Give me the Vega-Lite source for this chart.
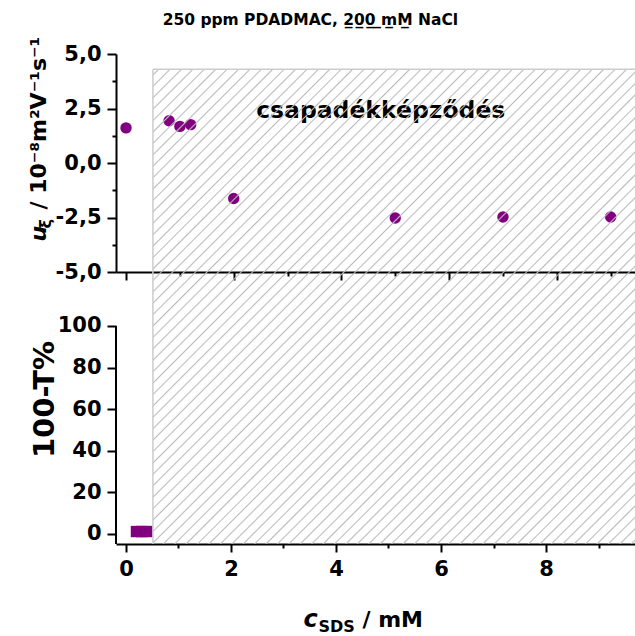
{
"$schema":"https://vega.github.io/schema/vega-lite/v6.json",
"background":"white",
"padding":{"left":27,"top":12,"right":0,"bottom":0},
"spacing":0,
"bounds":"flush",
"title":{"text":"250 ppm PDADMAC, 2̲0̲0̲ ̲m̲M̲ NaCl","font":"DejaVu Sans","fontSize":15.5,"fontWeight":"bold","color":"black","anchor":"middle","dx":-21,"offset":8},
"config":{"view":{"stroke":null},"axis":{"grid":false,"domainColor":"black","domainWidth":2,"tickColor":"black","tickWidth":2,"labelFont":"DejaVu Sans","labelFontWeight":"bold","labelFontSize":21,"labelColor":"black","titleFont":"DejaVu Sans","titleFontWeight":"bold","titleFontSize":23,"titleColor":"black","labelOverlap":false,"zindex":1,"labelPadding":6}},
"vconcat":[
{"width":519,"height":218,
"resolve":{"axis":{"y":"independent"}},
"layer":[
{"data":{"values":[{"c":0,"u":1.61},{"c":0.8,"u":1.94},{"c":1.0,"u":1.68},{"c":1.2,"u":1.76},{"c":2,"u":-1.63},{"c":5,"u":-2.52},{"c":7,"u":-2.48},{"c":9,"u":-2.48}]},
"mark":{"type":"circle","size":130,"color":"#800080","opacity":1},
"encoding":{
"x":{"field":"c","type":"quantitative","scale":{"domain":[-0.186,9.452],"nice":false,"zero":false},
"axis":{"values":[0,1,2,3,4,5,6,7,8,9],"labels":false,"title":null,"tickSize":{"condition":{"test":"datum.value % 2 === 0","value":8},"value":4}}},
"y":{"field":"u","type":"quantitative","scale":{"domain":[-5,5],"nice":false,"zero":false},
"axis":{"orient":"left","values":[-5,-3.75,-2.5,-1.25,0,1.25,2.5,3.75,5],
"labelExpr":"abs(datum.value % 2.5) < 0.001 ? (datum.value < 0 ? '-' : '') + replace(format(abs(datum.value), '.1f'), '.', ',') : ''",
"tickSize":{"condition":{"test":"abs(datum.value % 2.5) < 0.001","value":9},"value":4},
"title":"/ 10⁻⁸m²V⁻¹s⁻¹","titleFontSize":22,"titleX":-71,"titleY":155,"titleAngle":-90,"titleAlign":"left","titleBaseline":"alphabetic"}}}},
{"data":{"values":[{}]},
"mark":{"type":"text","text":"csapadékképződés","font":"DejaVu Sans","fontWeight":"bold","fontSize":23.5,"color":"black","baseline":"middle","align":"center"},
"encoding":{"x":{"datum":4.73},"y":{"datum":2.37,"axis":{"orient":"left","domain":false,"ticks":false,"labels":false,"title":"u","titleFontStyle":"italic","titleFontSize":22,"titleX":-71,"titleY":187,"titleAngle":-90,"titleAlign":"left","titleBaseline":"alphabetic"}}}},
{"data":{"values":[{}]},
"mark":{"type":"rect","fill":{"gradient":"linear","x1":0,"y1":0,"x2":1.20706,"y2":0.50764,"stops":[
{"offset":0.00613,"color":"#bbb0"},{"offset":0.00833,"color":"#bbb"},{"offset":0.01053,"color":"#bbb0"},
{"offset":0.0228,"color":"#bbb0"},{"offset":0.025,"color":"#bbb"},{"offset":0.0272,"color":"#bbb0"},
{"offset":0.03947,"color":"#bbb0"},{"offset":0.04167,"color":"#bbb"},{"offset":0.04387,"color":"#bbb0"},
{"offset":0.05613,"color":"#bbb0"},{"offset":0.05833,"color":"#bbb"},{"offset":0.06053,"color":"#bbb0"},
{"offset":0.0728,"color":"#bbb0"},{"offset":0.075,"color":"#bbb"},{"offset":0.0772,"color":"#bbb0"},
{"offset":0.08947,"color":"#bbb0"},{"offset":0.09167,"color":"#bbb"},{"offset":0.09387,"color":"#bbb0"},
{"offset":0.10613,"color":"#bbb0"},{"offset":0.10833,"color":"#bbb"},{"offset":0.11053,"color":"#bbb0"},
{"offset":0.1228,"color":"#bbb0"},{"offset":0.125,"color":"#bbb"},{"offset":0.1272,"color":"#bbb0"},
{"offset":0.13947,"color":"#bbb0"},{"offset":0.14167,"color":"#bbb"},{"offset":0.14387,"color":"#bbb0"},
{"offset":0.15613,"color":"#bbb0"},{"offset":0.15833,"color":"#bbb"},{"offset":0.16053,"color":"#bbb0"},
{"offset":0.1728,"color":"#bbb0"},{"offset":0.175,"color":"#bbb"},{"offset":0.1772,"color":"#bbb0"},
{"offset":0.18947,"color":"#bbb0"},{"offset":0.19167,"color":"#bbb"},{"offset":0.19387,"color":"#bbb0"},
{"offset":0.20613,"color":"#bbb0"},{"offset":0.20833,"color":"#bbb"},{"offset":0.21053,"color":"#bbb0"},
{"offset":0.2228,"color":"#bbb0"},{"offset":0.225,"color":"#bbb"},{"offset":0.2272,"color":"#bbb0"},
{"offset":0.23947,"color":"#bbb0"},{"offset":0.24167,"color":"#bbb"},{"offset":0.24387,"color":"#bbb0"},
{"offset":0.25613,"color":"#bbb0"},{"offset":0.25833,"color":"#bbb"},{"offset":0.26053,"color":"#bbb0"},
{"offset":0.2728,"color":"#bbb0"},{"offset":0.275,"color":"#bbb"},{"offset":0.2772,"color":"#bbb0"},
{"offset":0.28947,"color":"#bbb0"},{"offset":0.29167,"color":"#bbb"},{"offset":0.29387,"color":"#bbb0"},
{"offset":0.30613,"color":"#bbb0"},{"offset":0.30833,"color":"#bbb"},{"offset":0.31053,"color":"#bbb0"},
{"offset":0.3228,"color":"#bbb0"},{"offset":0.325,"color":"#bbb"},{"offset":0.3272,"color":"#bbb0"},
{"offset":0.33947,"color":"#bbb0"},{"offset":0.34167,"color":"#bbb"},{"offset":0.34387,"color":"#bbb0"},
{"offset":0.35613,"color":"#bbb0"},{"offset":0.35833,"color":"#bbb"},{"offset":0.36053,"color":"#bbb0"},
{"offset":0.3728,"color":"#bbb0"},{"offset":0.375,"color":"#bbb"},{"offset":0.3772,"color":"#bbb0"},
{"offset":0.38947,"color":"#bbb0"},{"offset":0.39167,"color":"#bbb"},{"offset":0.39387,"color":"#bbb0"},
{"offset":0.40613,"color":"#bbb0"},{"offset":0.40833,"color":"#bbb"},{"offset":0.41053,"color":"#bbb0"},
{"offset":0.4228,"color":"#bbb0"},{"offset":0.425,"color":"#bbb"},{"offset":0.4272,"color":"#bbb0"},
{"offset":0.43947,"color":"#bbb0"},{"offset":0.44167,"color":"#bbb"},{"offset":0.44387,"color":"#bbb0"},
{"offset":0.45613,"color":"#bbb0"},{"offset":0.45833,"color":"#bbb"},{"offset":0.46053,"color":"#bbb0"},
{"offset":0.4728,"color":"#bbb0"},{"offset":0.475,"color":"#bbb"},{"offset":0.4772,"color":"#bbb0"},
{"offset":0.48947,"color":"#bbb0"},{"offset":0.49167,"color":"#bbb"},{"offset":0.49387,"color":"#bbb0"},
{"offset":0.50613,"color":"#bbb0"},{"offset":0.50833,"color":"#bbb"},{"offset":0.51053,"color":"#bbb0"},
{"offset":0.5228,"color":"#bbb0"},{"offset":0.525,"color":"#bbb"},{"offset":0.5272,"color":"#bbb0"},
{"offset":0.53947,"color":"#bbb0"},{"offset":0.54167,"color":"#bbb"},{"offset":0.54387,"color":"#bbb0"},
{"offset":0.55613,"color":"#bbb0"},{"offset":0.55833,"color":"#bbb"},{"offset":0.56053,"color":"#bbb0"},
{"offset":0.5728,"color":"#bbb0"},{"offset":0.575,"color":"#bbb"},{"offset":0.5772,"color":"#bbb0"},
{"offset":0.58947,"color":"#bbb0"},{"offset":0.59167,"color":"#bbb"},{"offset":0.59387,"color":"#bbb0"},
{"offset":0.60613,"color":"#bbb0"},{"offset":0.60833,"color":"#bbb"},{"offset":0.61053,"color":"#bbb0"},
{"offset":0.6228,"color":"#bbb0"},{"offset":0.625,"color":"#bbb"},{"offset":0.6272,"color":"#bbb0"},
{"offset":0.63947,"color":"#bbb0"},{"offset":0.64167,"color":"#bbb"},{"offset":0.64387,"color":"#bbb0"},
{"offset":0.65613,"color":"#bbb0"},{"offset":0.65833,"color":"#bbb"},{"offset":0.66053,"color":"#bbb0"},
{"offset":0.6728,"color":"#bbb0"},{"offset":0.675,"color":"#bbb"},{"offset":0.6772,"color":"#bbb0"},
{"offset":0.68947,"color":"#bbb0"},{"offset":0.69167,"color":"#bbb"},{"offset":0.69387,"color":"#bbb0"},
{"offset":0.70613,"color":"#bbb0"},{"offset":0.70833,"color":"#bbb"},{"offset":0.71053,"color":"#bbb0"},
{"offset":0.7228,"color":"#bbb0"},{"offset":0.725,"color":"#bbb"},{"offset":0.7272,"color":"#bbb0"},
{"offset":0.73947,"color":"#bbb0"},{"offset":0.74167,"color":"#bbb"},{"offset":0.74387,"color":"#bbb0"},
{"offset":0.75613,"color":"#bbb0"},{"offset":0.75833,"color":"#bbb"},{"offset":0.76053,"color":"#bbb0"},
{"offset":0.7728,"color":"#bbb0"},{"offset":0.775,"color":"#bbb"},{"offset":0.7772,"color":"#bbb0"},
{"offset":0.78947,"color":"#bbb0"},{"offset":0.79167,"color":"#bbb"},{"offset":0.79387,"color":"#bbb0"},
{"offset":0.80613,"color":"#bbb0"},{"offset":0.80833,"color":"#bbb"},{"offset":0.81053,"color":"#bbb0"},
{"offset":0.8228,"color":"#bbb0"},{"offset":0.825,"color":"#bbb"},{"offset":0.8272,"color":"#bbb0"},
{"offset":0.83947,"color":"#bbb0"},{"offset":0.84167,"color":"#bbb"},{"offset":0.84387,"color":"#bbb0"},
{"offset":0.85613,"color":"#bbb0"},{"offset":0.85833,"color":"#bbb"},{"offset":0.86053,"color":"#bbb0"},
{"offset":0.8728,"color":"#bbb0"},{"offset":0.875,"color":"#bbb"},{"offset":0.8772,"color":"#bbb0"},
{"offset":0.88947,"color":"#bbb0"},{"offset":0.89167,"color":"#bbb"},{"offset":0.89387,"color":"#bbb0"},
{"offset":0.90613,"color":"#bbb0"},{"offset":0.90833,"color":"#bbb"},{"offset":0.91053,"color":"#bbb0"},
{"offset":0.9228,"color":"#bbb0"},{"offset":0.925,"color":"#bbb"},{"offset":0.9272,"color":"#bbb0"},
{"offset":0.93947,"color":"#bbb0"},{"offset":0.94167,"color":"#bbb"},{"offset":0.94387,"color":"#bbb0"},
{"offset":0.95613,"color":"#bbb0"},{"offset":0.95833,"color":"#bbb"},{"offset":0.96053,"color":"#bbb0"},
{"offset":0.9728,"color":"#bbb0"},{"offset":0.975,"color":"#bbb"},{"offset":0.9772,"color":"#bbb0"},
{"offset":0.98947,"color":"#bbb0"},{"offset":0.99167,"color":"#bbb"},{"offset":0.99387,"color":"#bbb0"}
]}},
"encoding":{"x":{"datum":0.5},"x2":{"datum":9.452},"y":{"datum":4.3,"axis":{"orient":"left","domain":false,"ticks":false,"labels":false,"title":"ξ","titleFontSize":16,"titleX":-66,"titleY":174,"titleAngle":-90,"titleAlign":"left","titleBaseline":"alphabetic"}},"y2":{"datum":-5}}},
{"data":{"values":[{}]},"mark":{"type":"rule","color":"#cccccc","strokeWidth":1.5},"encoding":{"x":{"datum":0.5},"y":{"datum":-5,"axis":null},"y2":{"datum":4.3}}},
{"data":{"values":[{}]},"mark":{"type":"rule","color":"#cccccc","strokeWidth":1.5},"encoding":{"x":{"datum":0.5},"x2":{"datum":9.452},"y":{"datum":4.3,"axis":null}}}
]},
{"width":519,"height":272,
"resolve":{"axis":{"x":"independent"}},
"layer":[
{"data":{"values":[{"c":0.2,"t":1},{"c":0.3,"t":1},{"c":0.4,"t":1}]},
"mark":{"type":"square","size":130,"color":"#800080","opacity":1},
"encoding":{
"x":{"field":"c","type":"quantitative","scale":{"domain":[-0.19,9.695],"nice":false,"zero":false},
"axis":{"orient":"bottom","values":[0,1,2,3,4,5,6,7,8,9],"labelExpr":"datum.value % 2 === 0 ? datum.label : ''","tickSize":{"condition":{"test":"datum.value % 2 === 0","value":8},"value":4},"title":"/ mM","titleFontSize":22,"titleX":246,"titleY":82,"titleAlign":"left","titleAnchor":"start","titleBaseline":"alphabetic"}},
"y":{"field":"t","type":"quantitative","scale":{"domain":[-5,126],"nice":false,"zero":false},
"axis":{"values":[0,10,20,30,40,50,60,70,80,90,100],"labelExpr":"datum.value % 20 === 0 ? datum.label : ''","tickSize":{"condition":{"test":"datum.value % 20 === 0","value":9},"value":4},"domain":false,"title":"100-T%","titleFontSize":29,"titleX":-63,"titleY":127,"titleAngle":-90,"titleAlign":"center","titleBaseline":"alphabetic"}}}},
{"data":{"values":[{}]},
"mark":{"type":"rect","fill":{"gradient":"linear","x1":0,"y1":0,"x2":1.18651,"y2":0.66945,"stops":[
{"offset":0.00916,"color":"#bbb0"},{"offset":0.01116,"color":"#bbb"},{"offset":0.01316,"color":"#bbb0"},
{"offset":0.02429,"color":"#bbb0"},{"offset":0.02629,"color":"#bbb"},{"offset":0.02829,"color":"#bbb0"},
{"offset":0.03943,"color":"#bbb0"},{"offset":0.04143,"color":"#bbb"},{"offset":0.04343,"color":"#bbb0"},
{"offset":0.05456,"color":"#bbb0"},{"offset":0.05656,"color":"#bbb"},{"offset":0.05856,"color":"#bbb0"},
{"offset":0.0697,"color":"#bbb0"},{"offset":0.0717,"color":"#bbb"},{"offset":0.0737,"color":"#bbb0"},
{"offset":0.08483,"color":"#bbb0"},{"offset":0.08683,"color":"#bbb"},{"offset":0.08883,"color":"#bbb0"},
{"offset":0.09997,"color":"#bbb0"},{"offset":0.10197,"color":"#bbb"},{"offset":0.10397,"color":"#bbb0"},
{"offset":0.1151,"color":"#bbb0"},{"offset":0.1171,"color":"#bbb"},{"offset":0.1191,"color":"#bbb0"},
{"offset":0.13024,"color":"#bbb0"},{"offset":0.13224,"color":"#bbb"},{"offset":0.13424,"color":"#bbb0"},
{"offset":0.14538,"color":"#bbb0"},{"offset":0.14738,"color":"#bbb"},{"offset":0.14938,"color":"#bbb0"},
{"offset":0.16051,"color":"#bbb0"},{"offset":0.16251,"color":"#bbb"},{"offset":0.16451,"color":"#bbb0"},
{"offset":0.17565,"color":"#bbb0"},{"offset":0.17765,"color":"#bbb"},{"offset":0.17965,"color":"#bbb0"},
{"offset":0.19078,"color":"#bbb0"},{"offset":0.19278,"color":"#bbb"},{"offset":0.19478,"color":"#bbb0"},
{"offset":0.20592,"color":"#bbb0"},{"offset":0.20792,"color":"#bbb"},{"offset":0.20992,"color":"#bbb0"},
{"offset":0.22105,"color":"#bbb0"},{"offset":0.22305,"color":"#bbb"},{"offset":0.22505,"color":"#bbb0"},
{"offset":0.23619,"color":"#bbb0"},{"offset":0.23819,"color":"#bbb"},{"offset":0.24019,"color":"#bbb0"},
{"offset":0.25132,"color":"#bbb0"},{"offset":0.25332,"color":"#bbb"},{"offset":0.25532,"color":"#bbb0"},
{"offset":0.26646,"color":"#bbb0"},{"offset":0.26846,"color":"#bbb"},{"offset":0.27046,"color":"#bbb0"},
{"offset":0.2816,"color":"#bbb0"},{"offset":0.2836,"color":"#bbb"},{"offset":0.2856,"color":"#bbb0"},
{"offset":0.29673,"color":"#bbb0"},{"offset":0.29873,"color":"#bbb"},{"offset":0.30073,"color":"#bbb0"},
{"offset":0.31187,"color":"#bbb0"},{"offset":0.31387,"color":"#bbb"},{"offset":0.31587,"color":"#bbb0"},
{"offset":0.327,"color":"#bbb0"},{"offset":0.329,"color":"#bbb"},{"offset":0.331,"color":"#bbb0"},
{"offset":0.34214,"color":"#bbb0"},{"offset":0.34414,"color":"#bbb"},{"offset":0.34614,"color":"#bbb0"},
{"offset":0.35727,"color":"#bbb0"},{"offset":0.35927,"color":"#bbb"},{"offset":0.36127,"color":"#bbb0"},
{"offset":0.37241,"color":"#bbb0"},{"offset":0.37441,"color":"#bbb"},{"offset":0.37641,"color":"#bbb0"},
{"offset":0.38754,"color":"#bbb0"},{"offset":0.38954,"color":"#bbb"},{"offset":0.39154,"color":"#bbb0"},
{"offset":0.40268,"color":"#bbb0"},{"offset":0.40468,"color":"#bbb"},{"offset":0.40668,"color":"#bbb0"},
{"offset":0.41782,"color":"#bbb0"},{"offset":0.41982,"color":"#bbb"},{"offset":0.42182,"color":"#bbb0"},
{"offset":0.43295,"color":"#bbb0"},{"offset":0.43495,"color":"#bbb"},{"offset":0.43695,"color":"#bbb0"},
{"offset":0.44809,"color":"#bbb0"},{"offset":0.45009,"color":"#bbb"},{"offset":0.45209,"color":"#bbb0"},
{"offset":0.46322,"color":"#bbb0"},{"offset":0.46522,"color":"#bbb"},{"offset":0.46722,"color":"#bbb0"},
{"offset":0.47836,"color":"#bbb0"},{"offset":0.48036,"color":"#bbb"},{"offset":0.48236,"color":"#bbb0"},
{"offset":0.49349,"color":"#bbb0"},{"offset":0.49549,"color":"#bbb"},{"offset":0.49749,"color":"#bbb0"},
{"offset":0.50863,"color":"#bbb0"},{"offset":0.51063,"color":"#bbb"},{"offset":0.51263,"color":"#bbb0"},
{"offset":0.52376,"color":"#bbb0"},{"offset":0.52576,"color":"#bbb"},{"offset":0.52776,"color":"#bbb0"},
{"offset":0.5389,"color":"#bbb0"},{"offset":0.5409,"color":"#bbb"},{"offset":0.5429,"color":"#bbb0"},
{"offset":0.55404,"color":"#bbb0"},{"offset":0.55604,"color":"#bbb"},{"offset":0.55804,"color":"#bbb0"},
{"offset":0.56917,"color":"#bbb0"},{"offset":0.57117,"color":"#bbb"},{"offset":0.57317,"color":"#bbb0"},
{"offset":0.58431,"color":"#bbb0"},{"offset":0.58631,"color":"#bbb"},{"offset":0.58831,"color":"#bbb0"},
{"offset":0.59944,"color":"#bbb0"},{"offset":0.60144,"color":"#bbb"},{"offset":0.60344,"color":"#bbb0"},
{"offset":0.61458,"color":"#bbb0"},{"offset":0.61658,"color":"#bbb"},{"offset":0.61858,"color":"#bbb0"},
{"offset":0.62971,"color":"#bbb0"},{"offset":0.63171,"color":"#bbb"},{"offset":0.63371,"color":"#bbb0"},
{"offset":0.64485,"color":"#bbb0"},{"offset":0.64685,"color":"#bbb"},{"offset":0.64885,"color":"#bbb0"},
{"offset":0.65998,"color":"#bbb0"},{"offset":0.66198,"color":"#bbb"},{"offset":0.66398,"color":"#bbb0"},
{"offset":0.67512,"color":"#bbb0"},{"offset":0.67712,"color":"#bbb"},{"offset":0.67912,"color":"#bbb0"},
{"offset":0.69025,"color":"#bbb0"},{"offset":0.69225,"color":"#bbb"},{"offset":0.69425,"color":"#bbb0"},
{"offset":0.70539,"color":"#bbb0"},{"offset":0.70739,"color":"#bbb"},{"offset":0.70939,"color":"#bbb0"},
{"offset":0.72053,"color":"#bbb0"},{"offset":0.72253,"color":"#bbb"},{"offset":0.72453,"color":"#bbb0"},
{"offset":0.73566,"color":"#bbb0"},{"offset":0.73766,"color":"#bbb"},{"offset":0.73966,"color":"#bbb0"},
{"offset":0.7508,"color":"#bbb0"},{"offset":0.7528,"color":"#bbb"},{"offset":0.7548,"color":"#bbb0"},
{"offset":0.76593,"color":"#bbb0"},{"offset":0.76793,"color":"#bbb"},{"offset":0.76993,"color":"#bbb0"},
{"offset":0.78107,"color":"#bbb0"},{"offset":0.78307,"color":"#bbb"},{"offset":0.78507,"color":"#bbb0"},
{"offset":0.7962,"color":"#bbb0"},{"offset":0.7982,"color":"#bbb"},{"offset":0.8002,"color":"#bbb0"},
{"offset":0.81134,"color":"#bbb0"},{"offset":0.81334,"color":"#bbb"},{"offset":0.81534,"color":"#bbb0"},
{"offset":0.82647,"color":"#bbb0"},{"offset":0.82847,"color":"#bbb"},{"offset":0.83047,"color":"#bbb0"},
{"offset":0.84161,"color":"#bbb0"},{"offset":0.84361,"color":"#bbb"},{"offset":0.84561,"color":"#bbb0"},
{"offset":0.85675,"color":"#bbb0"},{"offset":0.85875,"color":"#bbb"},{"offset":0.86075,"color":"#bbb0"},
{"offset":0.87188,"color":"#bbb0"},{"offset":0.87388,"color":"#bbb"},{"offset":0.87588,"color":"#bbb0"},
{"offset":0.88702,"color":"#bbb0"},{"offset":0.88902,"color":"#bbb"},{"offset":0.89102,"color":"#bbb0"},
{"offset":0.90215,"color":"#bbb0"},{"offset":0.90415,"color":"#bbb"},{"offset":0.90615,"color":"#bbb0"},
{"offset":0.91729,"color":"#bbb0"},{"offset":0.91929,"color":"#bbb"},{"offset":0.92129,"color":"#bbb0"},
{"offset":0.93242,"color":"#bbb0"},{"offset":0.93442,"color":"#bbb"},{"offset":0.93642,"color":"#bbb0"},
{"offset":0.94756,"color":"#bbb0"},{"offset":0.94956,"color":"#bbb"},{"offset":0.95156,"color":"#bbb0"},
{"offset":0.96269,"color":"#bbb0"},{"offset":0.96469,"color":"#bbb"},{"offset":0.96669,"color":"#bbb0"},
{"offset":0.97783,"color":"#bbb0"},{"offset":0.97983,"color":"#bbb"},{"offset":0.98183,"color":"#bbb0"},
{"offset":0.99297,"color":"#bbb0"},{"offset":0.99497,"color":"#bbb"},{"offset":0.99697,"color":"#bbb0"}
]}},
"encoding":{"x":{"datum":0.513,"axis":{"orient":"bottom","domain":false,"ticks":false,"labels":false,"title":"c","titleFontStyle":"italic","titleFontSize":24,"titleX":187,"titleY":82,"titleAlign":"left","titleBaseline":"alphabetic"}},"x2":{"datum":9.695},"y":{"datum":126},"y2":{"datum":-5}}},
{"data":{"values":[{}]},"mark":{"type":"rule","color":"#cccccc","strokeWidth":1.5},"encoding":{"x":{"datum":0.513,"axis":{"orient":"bottom","domain":false,"ticks":false,"labels":false,"title":"SDS","titleFontSize":16,"titleX":202,"titleY":87,"titleAlign":"left","titleBaseline":"alphabetic"}},"y":{"datum":-5},"y2":{"datum":126}}},
{"data":{"values":[{}]},"mark":{"type":"rule","color":"black","strokeWidth":2},"encoding":{"x":{"datum":-0.19,"axis":null},"y":{"datum":-5},"y2":{"datum":100}}}
]}
]
}
